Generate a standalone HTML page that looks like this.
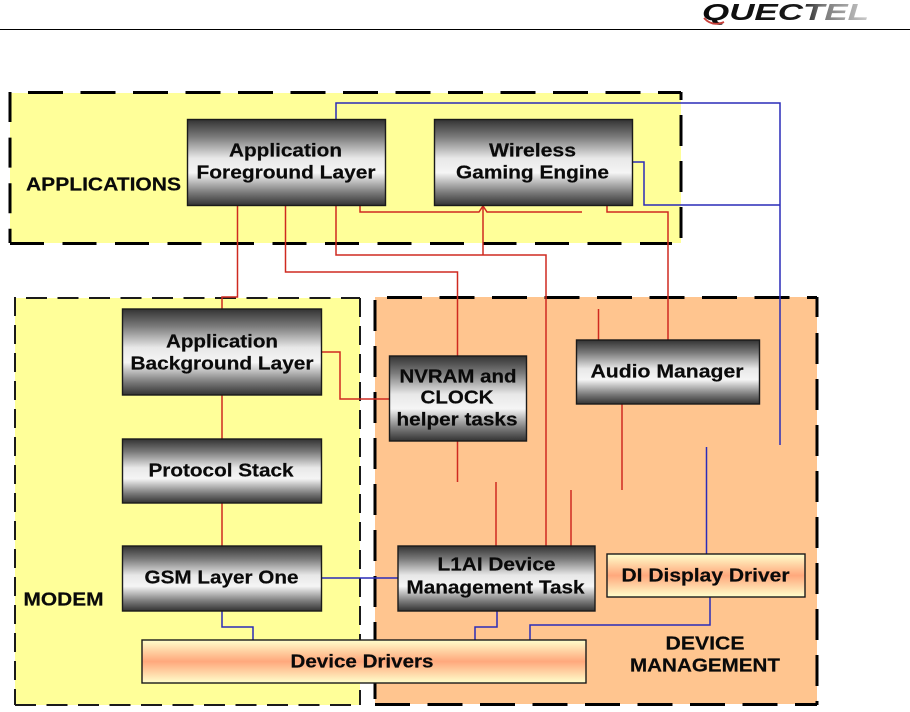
<!DOCTYPE html>
<html><head><meta charset="utf-8"><style>
html,body{margin:0;padding:0;background:#fff;width:910px;height:712px;overflow:hidden}
svg{display:block;filter:blur(.3px)}
text{font-family:"Liberation Sans",sans-serif;font-weight:bold;fill:#0a0a0a;stroke:#0a0a0a;stroke-width:.2;font-size:18px;text-anchor:middle}
.r{stroke:#cf2a20;stroke-width:1.5;fill:none}
.b{stroke:#2a2cb8;stroke-width:1.5;fill:none}
.box{stroke:#1a1a1a;stroke-width:1.4}
.d3{stroke:#000;stroke-width:3;fill:none}
.d2{stroke:#1a1a1a;stroke-width:2;fill:none}
</style></head><body>
<svg width="910" height="712" viewBox="0 0 910 712" xmlns="http://www.w3.org/2000/svg">
<defs>
<linearGradient id="g" x1="0" y1="0" x2="0" y2="1">
<stop offset="0" stop-color="#333"/><stop offset=".2" stop-color="#7a7a7a"/><stop offset=".45" stop-color="#e8e8e8"/><stop offset=".62" stop-color="#f5f5f5"/><stop offset=".85" stop-color="#7a7a7a"/><stop offset="1" stop-color="#333"/>
</linearGradient>
<linearGradient id="o" x1="0" y1="0" x2="0" y2="1">
<stop offset="0" stop-color="#ffffcc"/><stop offset=".5" stop-color="#ffa87c"/><stop offset="1" stop-color="#ffffcc"/>
</linearGradient>
<linearGradient id="lg" x1="0" y1="0" x2="1" y2="0">
<stop offset="0" stop-color="#0a0a0a"/><stop offset=".6" stop-color="#1a1a1a"/><stop offset=".72" stop-color="#777"/><stop offset="1" stop-color="#ccc"/>
</linearGradient>
</defs>

<!-- header -->
<rect x="0" y="29" width="910" height="1" fill="#000"/>
<text x="785.500" y="20" style="font-size:23px;font-style:italic;font-weight:bold;fill:url(#lg);stroke:none" textLength="167" lengthAdjust="spacingAndGlyphs">QUECTEL</text>
<path d="M704 18 Q712 27 724 22" fill="none" stroke="#c8403a" stroke-width="1.8"/>

<!-- zones -->
<rect x="10" y="93" width="671" height="150" fill="#ffff99"/>
<rect x="15" y="298" width="345" height="407" fill="#ffff99"/>
<rect x="375" y="297" width="442" height="407" fill="#ffc58f"/>

<!-- applications border -->
<line class="d3" x1="28" y1="92.5" x2="681" y2="92.5" stroke-dasharray="35 17.5"/>
<line class="d3" x1="10" y1="92" x2="10" y2="243" stroke-dasharray="30 15.6"/>
<line class="d3" x1="10" y1="243.5" x2="672" y2="243.5" stroke-dasharray="34 18.5"/>
<line class="d3" x1="681" y1="92" x2="681" y2="100"/>
<line class="d3" x1="681" y1="115" x2="681" y2="240" stroke-dasharray="31 15"/>

<!-- modem border -->
<line class="d2" x1="26" y1="298" x2="360" y2="298" stroke-dasharray="21 10.5"/>
<line class="d2" x1="15" y1="297" x2="15" y2="705" stroke-dasharray="19 9"/>
<line class="d2" x1="15" y1="705" x2="360" y2="705" stroke-dasharray="21 10.5"/>
<line class="d2" x1="360" y1="298" x2="360" y2="705" stroke-dasharray="19 9"/>

<!-- device border -->
<line class="d3" x1="387" y1="297.5" x2="817" y2="297.5" stroke-dasharray="35 17.5"/>
<line class="d3" x1="375" y1="300" x2="375" y2="705" stroke-dasharray="31 15"/>
<line class="d3" x1="375" y1="704.5" x2="817" y2="704.5" stroke-dasharray="35 17.5"/>
<line class="d3" x1="817" y1="297" x2="817" y2="317"/>
<line class="d3" x1="817" y1="333" x2="817" y2="705" stroke-dasharray="31 15"/>

<!-- connectors -->
<path class="b" d="M336 120V103H780V445"/>
<path class="b" d="M632 162H644V205H780"/>
<path class="r" d="M237.500 205V297H222V309"/>
<path class="r" d="M285.500 205V272H457.500V356"/>
<path class="r" d="M336 205V255H546V546"/>
<path class="r" d="M483 255V206"/>
<path class="r" d="M360 205V212H479L483 206L487 212H582"/>
<path class="r" d="M607 205V212H668V340"/>
<path class="r" d="M598.500 309V340"/>
<path class="r" d="M622 404V490"/>
<path class="r" d="M457.500 441V482"/>
<path class="r" d="M496 482V546"/>
<path class="r" d="M571 490V546"/>
<path class="r" d="M222 395V439"/>
<path class="r" d="M222 503V546"/>
<path class="r" d="M321 352H340V399H390"/>
<path class="b" d="M706.500 447V554"/>
<path class="b" d="M321 578H398"/>
<path class="b" d="M222 611V627H253V640"/>
<path class="b" d="M497 611V627H475V640"/>
<path class="b" d="M710 597V625H530V640"/>

<!-- boxes -->
<rect class="box" x="187.500" y="119.500" width="198" height="86" fill="url(#g)"/>
<rect class="box" x="434.500" y="119.500" width="198" height="86" fill="url(#g)"/>
<rect class="box" x="122.500" y="309" width="199" height="86" fill="url(#g)"/>
<rect class="box" x="122.500" y="439" width="199" height="64" fill="url(#g)"/>
<rect class="box" x="122.500" y="546" width="199" height="65" fill="url(#g)"/>
<rect class="box" x="389.500" y="356" width="137" height="85" fill="url(#g)"/>
<rect class="box" x="576.500" y="340" width="183" height="64" fill="url(#g)"/>
<rect class="box" x="398" y="546" width="197" height="65" fill="url(#g)"/>
<rect class="box" x="607" y="554" width="198" height="43" fill="url(#o)"/>
<rect class="box" x="142" y="640" width="444" height="43" fill="url(#o)"/>

<!-- labels -->
<g transform="translate(0,.7)">
<text x="103.500" y="190" textLength="155" lengthAdjust="spacingAndGlyphs">APPLICATIONS</text>
<text x="285.500" y="156" textLength="113" lengthAdjust="spacingAndGlyphs">Application</text>
<text x="286" y="178" textLength="179" lengthAdjust="spacingAndGlyphs">Foreground Layer</text>
<text x="532.500" y="156" textLength="87" lengthAdjust="spacingAndGlyphs">Wireless</text>
<text x="532.500" y="178" textLength="153" lengthAdjust="spacingAndGlyphs">Gaming Engine</text>
<text x="222" y="347" textLength="112" lengthAdjust="spacingAndGlyphs">Application</text>
<text x="222" y="369" textLength="183" lengthAdjust="spacingAndGlyphs">Background Layer</text>
<text x="221" y="476" textLength="145" lengthAdjust="spacingAndGlyphs">Protocol Stack</text>
<text x="221.500" y="583" textLength="154" lengthAdjust="spacingAndGlyphs">GSM Layer One</text>
<text x="458" y="382" textLength="117" lengthAdjust="spacingAndGlyphs">NVRAM and</text>
<text x="457" y="403" textLength="73" lengthAdjust="spacingAndGlyphs">CLOCK</text>
<text x="457" y="425" textLength="121" lengthAdjust="spacingAndGlyphs">helper tasks</text>
<text x="667" y="377" textLength="153" lengthAdjust="spacingAndGlyphs">Audio Manager</text>
<text x="496.500" y="570" textLength="118" lengthAdjust="spacingAndGlyphs">L1AI Device</text>
<text x="495.500" y="593" textLength="178" lengthAdjust="spacingAndGlyphs">Management Task</text>
<text x="705.500" y="581" textLength="168" lengthAdjust="spacingAndGlyphs">DI Display Driver</text>
<text x="362" y="667" textLength="143" lengthAdjust="spacingAndGlyphs">Device Drivers</text>
<text x="63.500" y="605" textLength="80" lengthAdjust="spacingAndGlyphs">MODEM</text>
<text x="705" y="649" textLength="79" lengthAdjust="spacingAndGlyphs">DEVICE</text>
<text x="705" y="671" textLength="150" lengthAdjust="spacingAndGlyphs">MANAGEMENT</text>
</g>
</svg>
</body></html>
